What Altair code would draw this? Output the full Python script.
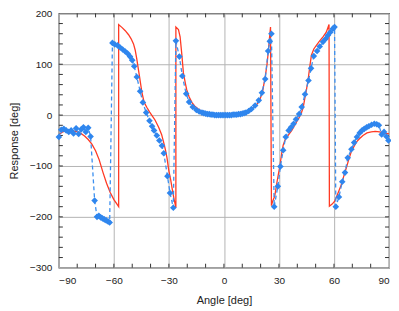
import altair as alt
import pandas as pd

# Measured (blue diamonds, dashed)
blue_x = [-90.0, -88.7, -87.3, -86.0, -84.6, -83.3, -82.0, -80.6, -79.2, -77.8, -76.6, -75.3, -74.0, -72.7,
          -70.5, -69.2, -68.2, -67.2, -66.2, -65.2, -64.2, -63.2, -62.3,
          -60.8, -59.5, -58.0, -56.6, -55.2, -53.8, -52.5, -51.2, -50.0, -48.9, -47.5, -45.7, -44.2, -42.4,
          -40.6, -39.2, -38.1, -36.6, -35.2, -33.8, -32.8, -30.8, -29.4, -27.6,
          -26.2, -24.3, -22.7, -20.6, -19.0, -17.0, -15.0, -13.5, -12.0,
          -11, -10, -9, -8, -7, -6, -5, -4, -3, -2, -1, 0, 1, 2, 3, 4, 5, 6, 7, 8, 9, 10, 11, 12,
          13.5, 15.0, 17.0, 19.0, 20.7, 22.5, 24.1, 25.0, 25.9,
          27.4, 29.4, 30.8, 32.3, 33.7, 35.3, 36.6, 38.0, 39.3, 41.0, 42.4, 44.2, 46.1, 47.5, 49.0,
          50.8, 52.2, 54.0, 55.5, 56.7, 58.0, 59.4, 60.3,
          61.0, 62.7, 64.5, 66.0, 67.5, 69.5, 71.0, 72.5, 74.0, 75.3, 76.5, 77.8, 79.0, 80.5, 82.0,
          83.3, 84.5, 86.0, 87.3, 88.6, 89.7]
blue_y = [-43, -29, -27, -30, -33, -30, -36, -26, -37, -28, -24, -33, -25, -42,
          -168, -200, -198, -201, -203, -205, -207, -209, -211,
          142, 139, 137, 133, 129, 125, 121, 115, 108, 96, 75, 47, 25, 5,
          -11, -22, -30, -40, -50, -60, -75, -120, -153, -182,
          146, 115, 77, 42, 26, 16, 10, 7, 5,
          4, 3, 2, 2, 1, 1, 0, 0, 0, 0, 0, 0, 0, 0, 0, 0, 1, 1, 1, 2, 2, 3, 4, 5,
          8, 12, 19, 29, 44, 71, 126, 145, 160,
          -180, -140, -101, -69, -43, -30, -24, -17, -8, 2, 16, 41, 68, 92, 116,
          126, 135, 144, 150, 157, 163, 170, 173,
          -180, -161, -131, -113, -84, -67, -54, -43, -35, -30, -27, -24, -22, -19, -17,
          -18, -20, -38, -33, -42, -50]

# Model (red line)
red_x = [-90, -88, -86, -84, -82, -80, -78, -76, -74, -72, -70, -68, -66, -64, -62, -60, -58.5, -57.4,
         -57.4, -55.5, -53.8, -52, -50.6, -49.3, -48.4, -47.5, -46.9, -46, -44.7, -43.5, -42, -40.5,
         -39.2, -37.5, -35.6, -34, -32.9, -31.8, -31, -30.1, -29, -28.3, -27.2, -26.2,
         -26.2, -24.8, -23.9, -23, -22.1, -21, -20.3, -19, -17.5, -16, -14, -12, -10, -8, -5, 0,
         5, 8, 10, 12, 14, 16, 18, 19.5, 21, 22.5, 23.5, 24.2, 24.8, 25.4,
         25.9, 26.5, 27.7, 29, 30.5, 31.5, 32.3, 33.5, 35, 37, 39.5, 41, 42.3, 43.2, 44, 45, 45.9,
         46.8, 47.7, 49, 50.4, 52, 54, 55.8, 57.3,
         57.5, 59, 60.4, 62, 64, 65.5, 66.7, 68, 69.4, 71, 72.2, 74, 75.8, 78, 80.3, 82.5, 84.8, 87, 90]
red_y = [-38, -33, -31, -30, -31, -33, -36, -41, -48, -57, -70, -88, -112, -134, -152, -166, -174, -180,
         178, 172, 166, 158, 150, 140, 128, 110, 96, 75, 44, 25, 15, 6,
         -1, -10, -24, -38, -53, -70, -85, -108, -128, -143, -165, -182,
         173, 168, 154, 121, 83, 62, 50, 36, 25, 18, 12, 7, 4, 2, 1, 0,
         1, 2, 4, 6, 10, 14, 21, 30, 45, 75, 100, 125, 150, 173,
         -178, -170, -159, -130, -100, -75, -59, -47, -40, -30, -14, -5, 5, 15, 31, 50, 70,
         95, 118, 130, 137, 145, 154, 163, 178,
         -179, -175, -169, -155, -137, -118, -104, -88, -72, -61, -53, -46, -40, -35, -33, -32, -33, -35, -37]

x_ticks = [-90, -60, -30, 0, 30, 60, 90]
y_ticks = [-300, -200, -100, 0, 100, 200]
x_minor = [-80, -70, -50, -40, -20, -10, 10, 20, 40, 50, 70, 80]
y_minor = [-280, -260, -240, -220, -180, -160, -140, -120, -80, -60, -40, -20,
           20, 40, 60, 80, 120, 140, 160, 180]

W, H = 331, 255
FONT = "Liberation Sans"

blue = pd.DataFrame({"x": blue_x, "y": blue_y, "i": range(len(blue_x))})
red = pd.DataFrame({"x": red_x, "y": red_y, "i": range(len(red_x))})

xs = alt.Scale(domain=[-90, 90], nice=False, zero=False)
ys = alt.Scale(domain=[-300, 200], nice=False, zero=False)

xaxis = alt.Axis(values=x_ticks, grid=True, gridColor="#b4b4b4", gridWidth=1, tickSize=0,
                 labelPadding=8, domain=False, labelFont=FONT, labelFontSize=10,
                 labelColor="#222", title="Angle [deg]", titleFont=FONT, titleFontSize=11,
                 titleFontWeight="normal", titleColor="#222", titlePadding=9)
yaxis = alt.Axis(values=y_ticks, grid=True, gridColor="#b4b4b4", gridWidth=1, tickSize=0,
                 labelPadding=7, domain=False, labelFont=FONT, labelFontSize=10,
                 labelColor="#222", title="Response [deg]", titleFont=FONT, titleFontSize=11,
                 titleFontWeight="normal", titleColor="#222", titlePadding=10)

base_grid = alt.Chart(pd.DataFrame({"x": [0], "y": [0]})).mark_point(opacity=0).encode(
    x=alt.X("x:Q", scale=xs, axis=xaxis),
    y=alt.Y("y:Q", scale=ys, axis=yaxis),
)

red_line = alt.Chart(red).mark_line(color="#ff3a24", strokeWidth=1.3, clip=True).encode(
    x=alt.X("x:Q", scale=xs), y=alt.Y("y:Q", scale=ys), order="i:Q")

blue_line = alt.Chart(blue).mark_line(color="#3b8ff0", strokeWidth=1.3, strokeDash=[4, 3], clip=True).encode(
    x=alt.X("x:Q", scale=xs), y=alt.Y("y:Q", scale=ys), order="i:Q")

blue_pts = alt.Chart(blue).mark_point(shape="diamond", filled=True, color="#2f86ee", size=44, opacity=1).encode(
    x=alt.X("x:Q", scale=xs), y=alt.Y("y:Q", scale=ys))

# inward ticks on all four sides
xt = pd.DataFrame({"x": x_minor + x_ticks[1:-1]})
yt = pd.DataFrame({"y": y_minor + y_ticks[1:-1]})
tick_col = "#333"
tb = alt.Chart(xt).mark_rule(color=tick_col, strokeWidth=1).encode(
    x=alt.X("x:Q", scale=xs), y=alt.value(H), y2=alt.value(H - 4))
tt = alt.Chart(xt).mark_rule(color=tick_col, strokeWidth=1).encode(
    x=alt.X("x:Q", scale=xs), y=alt.value(0), y2=alt.value(4))
tl = alt.Chart(yt).mark_rule(color=tick_col, strokeWidth=1).encode(
    y=alt.Y("y:Q", scale=ys), x=alt.value(0), x2=alt.value(4))
tr = alt.Chart(yt).mark_rule(color=tick_col, strokeWidth=1).encode(
    y=alt.Y("y:Q", scale=ys), x=alt.value(W), x2=alt.value(W - 4))

chart = alt.layer(base_grid, tb, tt, tl, tr, red_line, blue_line, blue_pts).properties(
    width=W, height=H,
    autosize=alt.AutoSizeParams(type="none"),
    padding={"left": 51, "top": 5, "right": 2, "bottom": 43},
).configure_view(stroke="#333", strokeWidth=1.2)

chart.save("out.html", embed_options={"renderer": "svg", "actions": False})
